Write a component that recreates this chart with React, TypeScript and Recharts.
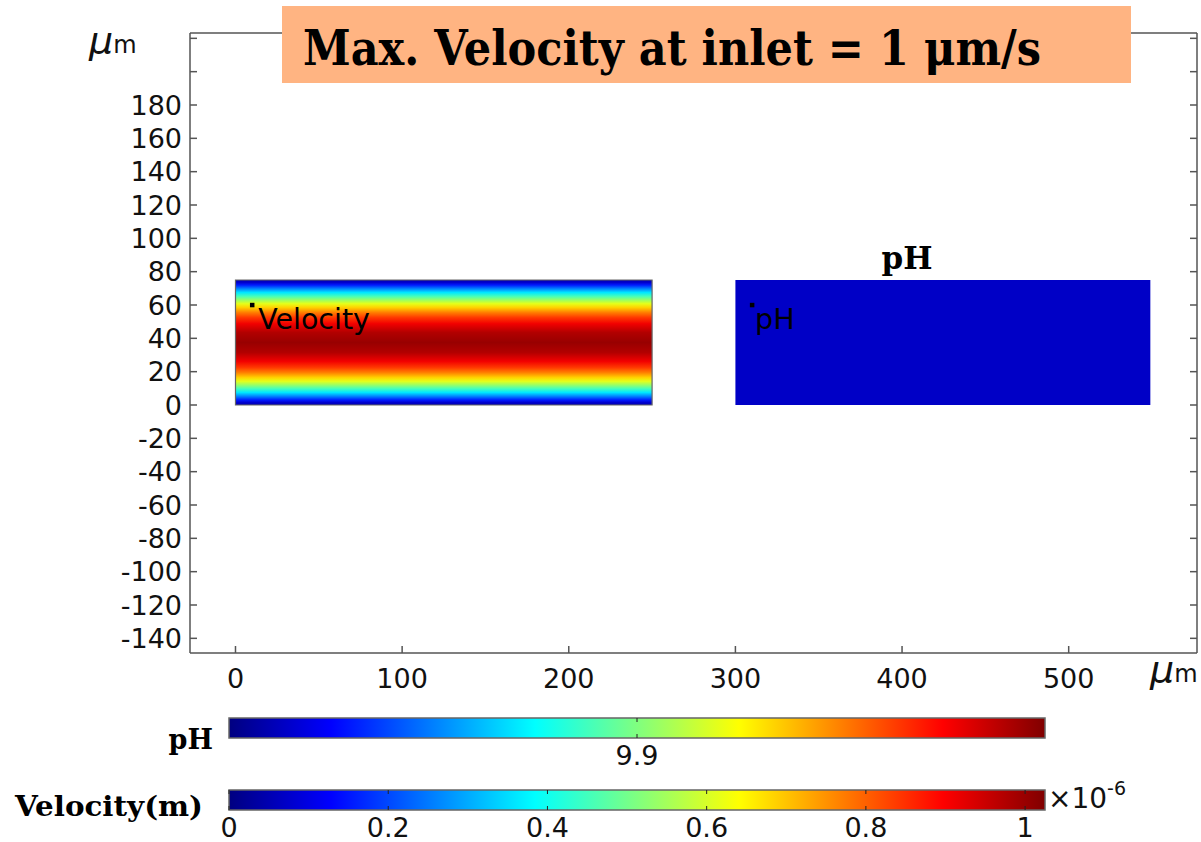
import React from 'react'
import { ComposedChart, XAxis, YAxis, ReferenceArea, Scatter } from 'recharts'

// axis values (µm)
const xTicks = [0, 100, 200, 300, 400, 500]
const yTicks = [-140, -120, -100, -80, -60, -40, -20, 0, 20, 40, 60, 80, 100, 120, 140, 160, 180, 200, 220]
const yLabelMax = 180
const xDomain = [-27.3, 577]
const yDomain = [-148.8, 223.2]

// the two channels
const channelNames = ['Velocity', 'pH']
const channelX1 = [0, 300]
const channelX2 = [250, 549]
const channelY1 = [0, 0]
const channelY2 = [75, 75]

// probe labels inside channels
const probeNames = ['Velocity', 'pH']
const probeX = [10, 310]
const probeY = [60, 60]

// colour bars
const phTicks = [9.9]
const phRange = [9.8, 10.0]
const velocityTicks = [0, 0.2, 0.4, 0.6, 0.8, 1]
const velocityRange = [0, 1.025]

const probes = probeNames.map((name, i) => ({ name, x: probeX[i], y: probeY[i] }))

const AXIS = '#555'
const TXT = '#111'
const SANS = 'DejaVu Sans, sans-serif'
const SERIF = 'DejaVu Serif, serif'

// jet colours across a parabolic flow profile, top wall -> centre -> bottom wall
const velStops: [number, string][] = [
  [0, '#0000B0'], [0.02, '#0000CE'], [0.04, '#001AFF'], [0.07, '#0084FF'], [0.1, '#00E7FF'],
  [0.13, '#44FFBB'], [0.16, '#98FF66'], [0.19, '#E6FF19'], [0.22, '#FFD100'], [0.26, '#FF7E00'],
  [0.3, '#FF3900'], [0.35, '#F20000'], [0.42, '#B20000'], [0.5, '#980000'],
  [0.58, '#B20000'], [0.65, '#F20000'], [0.7, '#FF3900'], [0.74, '#FF7E00'], [0.78, '#FFD100'],
  [0.81, '#E6FF19'], [0.84, '#98FF66'], [0.87, '#44FFBB'], [0.9, '#00E7FF'], [0.93, '#0084FF'],
  [0.96, '#001AFF'], [0.98, '#0000CE'], [1, '#0000B0'],
]
const jetStops: [number, string][] = [
  [0, '#000080'], [0.125, '#0000FF'], [0.375, '#00FFFF'], [0.625, '#FFFF00'], [0.875, '#FF0000'], [1, '#800000'],
]

const LeftTick = (p: any) => (
  <g>
    <line x1={p.x} y1={p.y} x2={p.x + 7} y2={p.y} stroke={AXIS} strokeWidth={1.5} />
    {p.payload.value <= yLabelMax && (
      <text x={p.x - 8} y={p.y} dy={9.8} textAnchor="end" fontFamily={SANS} fontSize={27} fill={TXT}>
        {String(p.payload.value)}
      </text>
    )}
  </g>
)
const RightTick = (p: any) => <line x1={p.x} y1={p.y} x2={p.x - 7} y2={p.y} stroke={AXIS} strokeWidth={1.5} />
const BottomTick = (p: any) => (
  <g>
    <line x1={p.x} y1={p.y} x2={p.x} y2={p.y - 7} stroke={AXIS} strokeWidth={1.5} />
    <text x={p.x} y={p.y + 35} textAnchor="middle" fontFamily={SANS} fontSize={27} fill={TXT}>
      {String(p.payload.value)}
    </text>
  </g>
)
const TopTick = (p: any) => <line x1={p.x} y1={p.y} x2={p.x} y2={p.y + 7} stroke={AXIS} strokeWidth={1.5} />

const ProbeShape = (p: any) => (
  <g>
    <rect x={p.cx - 2.2} y={p.cy - 2.2} width={4.5} height={4.5} fill="#000" />
    <text x={p.cx + (p.payload.name === 'pH' ? 3 : 6)} y={p.cy + 24} fontFamily={SANS} fontSize={28.5} fill="#000">
      {p.payload.name}
    </text>
  </g>
)

function ColorBar({ ticks, range, id }: { ticks: number[]; range: number[]; id: string }) {
  const BarTick = (p: any) => (
    <g>
      <line x1={p.x} y1={p.y} x2={p.x} y2={p.y - 4} stroke="#222" strokeWidth={1} />
      <line x1={p.x} y1={p.y - 20} x2={p.x} y2={p.y - 16} stroke="#222" strokeWidth={1} />
      <text x={p.x} y={p.y + 27} textAnchor="middle" fontFamily={SANS} fontSize={27} fill={TXT}>
        {String(p.payload.value)}
      </text>
    </g>
  )
  return (
    <ComposedChart width={1201} height={75} margin={{ top: 10, right: 156, bottom: 0, left: 229 }}>
      <defs>
        <linearGradient id={id} x1="0" y1="0" x2="1" y2="0">
          {jetStops.map(([o, c]) => (
            <stop key={o} offset={o} stopColor={c} />
          ))}
        </linearGradient>
      </defs>
      <YAxis hide type="number" domain={[0, 1]} allowDataOverflow width={1} />
      <ReferenceArea
        x1={range[0]}
        x2={range[1]}
        y1={0}
        y2={1}
        ifOverflow="visible"
        fill={`url(#${id})`}
        fillOpacity={1}
        stroke="#666"
        strokeWidth={1.5}
      />
      <XAxis
        type="number"
        dataKey="x"
        domain={range}
        allowDataOverflow
        ticks={ticks}
        interval={0}
        height={45}
        tickSize={0}
        tickMargin={0}
        tickLine={false}
        axisLine={false}
        tick={BarTick}
      />
    </ComposedChart>
  )
}

export default function App() {
  return (
    <div style={{ position: 'absolute', left: 0, top: 0, width: 1201, height: 842, background: '#fff' }}>
      <ComposedChart width={1201} height={700} margin={{ top: 32, right: 3, bottom: 17, left: 130 }}>
        <defs>
          <linearGradient id="velGrad" x1="0" y1="0" x2="0" y2="1">
            {velStops.map(([o, c]) => (
              <stop key={o} offset={o} stopColor={c} />
            ))}
          </linearGradient>
        </defs>
        <XAxis xAxisId="b" type="number" dataKey="x" domain={xDomain} allowDataOverflow ticks={xTicks} interval={0}
          height={30} tickSize={0} tickMargin={0} tickLine={false} axisLine={{ stroke: AXIS, strokeWidth: 1.5 }} tick={BottomTick} />
        <XAxis xAxisId="t" orientation="top" type="number" domain={xDomain} allowDataOverflow ticks={xTicks} interval={0}
          height={1} tickSize={0} tickMargin={0} tickLine={false} axisLine={{ stroke: AXIS, strokeWidth: 1.5 }} tick={TopTick} />
        <YAxis yAxisId="l" type="number" dataKey="y" domain={yDomain} allowDataOverflow ticks={yTicks} interval={0}
          width={60} tickSize={0} tickMargin={0} tickLine={false} axisLine={{ stroke: AXIS, strokeWidth: 1.5 }} tick={LeftTick} />
        <YAxis yAxisId="r" orientation="right" type="number" domain={yDomain} allowDataOverflow ticks={yTicks} interval={0}
          width={1} tickSize={0} tickMargin={0} tickLine={false} axisLine={{ stroke: AXIS, strokeWidth: 1.5 }} tick={RightTick} />
        {channelNames.map((name, i) => (
          <ReferenceArea
            key={name}
            xAxisId="b"
            yAxisId="l"
            x1={channelX1[i]}
            x2={channelX2[i]}
            y1={channelY1[i]}
            y2={channelY2[i]}
            fill={name === 'Velocity' ? 'url(#velGrad)' : '#0000C6'}
            fillOpacity={1}
            stroke={name === 'Velocity' ? '#666' : 'none'}
            strokeWidth={1.2}
          />
        ))}
        <Scatter xAxisId="b" yAxisId="l" data={probes} dataKey="y" shape={ProbeShape} isAnimationActive={false} />
      </ComposedChart>

      <div style={{ position: 'absolute', left: 0, top: 708 }}>
        <ColorBar ticks={phTicks} range={phRange} id="jetPh" />
      </div>
      <div style={{ position: 'absolute', left: 0, top: 780 }}>
        <ColorBar ticks={velocityTicks} range={velocityRange} id="jetVel" />
      </div>

      <svg width={1201} height={842} style={{ position: 'absolute', left: 0, top: 0, pointerEvents: 'none' }}>
        <rect x={282} y={6} width={849} height={77} fill="#FFB482" />
        <text x={303} y={65} fontFamily={SERIF} fontWeight="bold" fontSize={48} fill="#000" textLength={738} lengthAdjust="spacingAndGlyphs">
          Max. Velocity at inlet = 1 μm/s
        </text>
        <text x={907} y={269} textAnchor="middle" fontFamily={SERIF} fontWeight="bold" fontSize={31} fill="#000">pH</text>
        <text x={89} y={53} fontFamily={SANS} fill={TXT}>
          <tspan fontSize={38} fontStyle="italic">μ</tspan>
          <tspan fontSize={24}>m</tspan>
        </text>
        <text x={1150} y={682} fontFamily={SANS} fill={TXT}>
          <tspan fontSize={38} fontStyle="italic">μ</tspan>
          <tspan fontSize={24}>m</tspan>
        </text>
        <text x={213} y={749} textAnchor="end" fontFamily={SERIF} fontWeight="bold" fontSize={27} fill="#000">pH</text>
        <text x={15} y={816} fontFamily={SERIF} fontWeight="bold" fontSize={28} fill="#000" textLength={188} lengthAdjust="spacingAndGlyphs">
          Velocity(m)
        </text>
        <text x={1048} y={808} fontFamily={SANS} fontSize={28} fill={TXT}>
          ×10<tspan fontSize={19} dy={-13}>-6</tspan>
        </text>
      </svg>
    </div>
  )
}
